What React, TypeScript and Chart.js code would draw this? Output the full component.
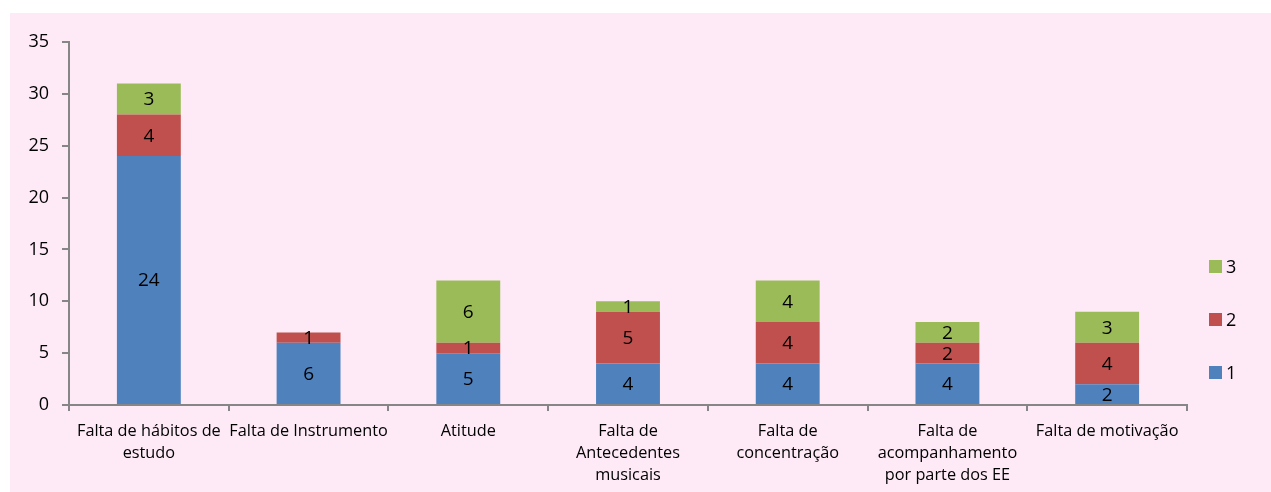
import React, { useEffect, useRef } from "react";
import { Chart, registerables } from "chart.js";

Chart.register(...registerables);

// Categories (multi-line labels as arrays)
const categories: (string | string[])[] = [
  ["Falta de hábitos de", "estudo"],
  "Falta de Instrumento",
  "Atitude",
  ["Falta de", "Antecedentes", "musicais"],
  ["Falta de", "concentração"],
  ["Falta de", "acompanhamento", "por parte dos EE"],
  "Falta de motivação",
];

const series1 = [24, 6, 5, 4, 4, 4, 2];
const series2 = [4, 1, 1, 5, 4, 2, 4];
const series3 = [3, 0, 6, 1, 4, 2, 3];

const seriesNames = ["1", "2", "3"];
const seriesColors = ["#4F81BD", "#C0504D", "#9BBB59"];

const yMax = 35;
const yStep = 5;

const FONT = "'Open Sans', Lato, sans-serif";
const AXIS_GREY = "#868686";
const BG = "#FDEAF6";

// Writes each segment's value in its middle (zeros are skipped)
const valueLabels = {
  id: "valueLabels",
  afterDatasetsDraw(chart: any) {
    const ctx = chart.ctx;
    ctx.save();
    ctx.font = `19px ${FONT}`;
    ctx.fillStyle = "#000";
    ctx.textAlign = "center";
    ctx.textBaseline = "middle";
    chart.data.datasets.forEach((ds: any, di: number) => {
      const meta = chart.getDatasetMeta(di);
      meta.data.forEach((bar: any, i: number) => {
        const v = ds.data[i];
        if (!v) return;
        const yMid = (bar.y + bar.base) / 2;
        ctx.fillText(String(v), bar.x, yMid + 1);
      });
    });
    ctx.restore();
  },
};

// Legend on the right, listed from the top series down
const sideLegend = {
  id: "sideLegend",
  afterDraw(chart: any) {
    const ctx = chart.ctx;
    const area = chart.chartArea;
    const x = area.right + 22;
    const rowGap = 53;
    const firstCenter = area.top + 224.5;
    const box = 13;
    ctx.save();
    ctx.font = `18px ${FONT}`;
    ctx.textAlign = "left";
    ctx.textBaseline = "middle";
    const n = chart.data.datasets.length;
    for (let k = 0; k < n; k++) {
      const di = n - 1 - k;
      const ds = chart.data.datasets[di];
      const cy = firstCenter + k * rowGap;
      ctx.fillStyle = ds.backgroundColor;
      ctx.fillRect(x, cy - box / 2, box, box);
      ctx.fillStyle = "#000";
      ctx.fillText(ds.label, x + box + 4, cy + 1);
    }
    ctx.restore();
  },
};

export default function App() {
  const canvasRef = useRef<HTMLCanvasElement | null>(null);

  useEffect(() => {
    if (!canvasRef.current) return;
    const values = [series1, series2, series3];
    const chart = new Chart(canvasRef.current, {
      type: "bar",
      data: {
        labels: categories,
        datasets: values.map((d, i) => ({
          label: seriesNames[i],
          data: d,
          backgroundColor: seriesColors[i],
          borderWidth: 0,
          categoryPercentage: 1,
          barPercentage: 0.4,
        })),
      },
      options: {
        animation: false,
        responsive: false,
        maintainAspectRatio: false,
        layout: { padding: { top: 29, right: 84, bottom: 0, left: 0 } },
        plugins: {
          legend: { display: false },
          tooltip: { enabled: false },
        },
        scales: {
          x: {
            stacked: true,
            offset: true,
            border: { display: true, color: AXIS_GREY, width: 2 },
            grid: {
              display: true,
              offset: true,
              drawOnChartArea: false,
              drawTicks: true,
              tickLength: 6,
              color: AXIS_GREY,
              lineWidth: 2,
            },
            ticks: {
              color: "#000",
              font: { family: FONT, size: 16.3, lineHeight: 1.33 },
              maxRotation: 0,
              minRotation: 0,
              autoSkip: false,
              padding: 10,
            },
            afterFit(scale: any) {
              scale.height = 87;
            },
          },
          y: {
            stacked: true,
            min: 0,
            max: yMax,
            border: { display: true, color: AXIS_GREY, width: 2 },
            grid: {
              display: true,
              drawOnChartArea: false,
              drawTicks: true,
              tickLength: 7,
              color: AXIS_GREY,
              lineWidth: 2,
            },
            ticks: {
              stepSize: yStep,
              color: "#000",
              font: { family: FONT, size: 18 },
              padding: 13,
            },
            afterFit(scale: any) {
              scale.width = 59;
            },
          },
        },
      },
      plugins: [valueLabels, sideLegend],
    });
    return () => chart.destroy();
  }, []);

  return (
    <div
      style={{
        position: "absolute",
        left: 10,
        top: 13,
        width: 1261,
        height: 479,
        background: BG,
      }}
    >
      <canvas ref={canvasRef} width={1261} height={479} />
    </div>
  );
}
